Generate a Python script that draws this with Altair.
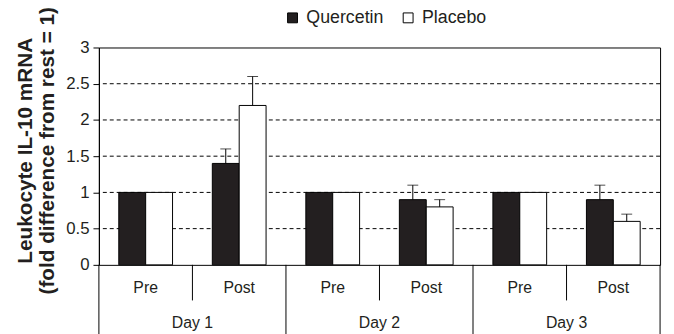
import altair as alt
import pandas as pd

# ---- data ----
days = ["Day 1", "Day 1", "Day 2", "Day 2", "Day 3", "Day 3"]
phases = ["Pre", "Post", "Pre", "Post", "Pre", "Post"]
series = ["Quercetin", "Placebo"]
quercetin = [1.0, 1.4, 1.0, 0.9, 1.0, 0.9]
quercetin_top = [None, 1.6, None, 1.1, None, 1.1]   # top of error bar
placebo = [1.0, 2.2, 1.0, 0.8, 1.0, 0.6]
placebo_top = [None, 2.6, None, 0.9, None, 0.7]
y_ticks = [0, 0.5, 1, 1.5, 2, 2.5, 3]
y_title = ["Leukocyte IL-10 mRNA" + "\u00a0" * 6, "(fold difference from rest = 1)"]

FONT = "Liberation Sans"
INK = "#231f20"

conds = [f"{d} {p}" for d, p in zip(days, phases)]

bar_rows, err_rows = [], []
for i, c in enumerate(conds):
    for s, vals, tops in (("Quercetin", quercetin, quercetin_top), ("Placebo", placebo, placebo_top)):
        bar_rows.append({"cond": c, "series": s, "value": vals[i]})
        if tops[i] is not None:
            err_rows.append({"cond": c, "series": s, "value": vals[i], "upper": tops[i]})
bars_df = pd.DataFrame(bar_rows)
err_df = pd.DataFrame(err_rows)
cat_df = pd.DataFrame({"cond": conds, "phase": phases, "day": days})
grid_df = pd.DataFrame({"value": [v for v in y_ticks if 0 < v < 3]})

x_scale = alt.Scale(domain=conds, paddingInner=0, paddingOuter=0)
xoff = alt.XOffset("series:N", scale=alt.Scale(domain=series, paddingInner=0, paddingOuter=0.74))
y_scale = alt.Scale(domain=[0, 3], nice=False)
y_axis = alt.Axis(values=y_ticks, format="~g", title=y_title, grid=False)


def Y(field):
    return alt.Y(f"{field}:Q", scale=y_scale, axis=y_axis)


def X(band=None):
    if band is None:
        return alt.X("cond:N", scale=x_scale, axis=None)
    return alt.X("cond:N", scale=x_scale, axis=None, bandPosition=band)


grid = alt.Chart(grid_df).mark_rule(color="black", strokeWidth=1, strokeDash=[4, 3]).encode(
    y=Y("value")
)

bars = alt.Chart(bars_df).mark_bar(stroke="black", strokeWidth=1).encode(
    x=X(),
    xOffset=xoff,
    y=Y("value"),
    fill=alt.Fill(
        "series:N",
        scale=alt.Scale(domain=series, range=[INK, "white"]),
        legend=alt.Legend(
            orient="none", legendX=187, legendY=-39, direction="horizontal",
            title=None, symbolType="square", symbolSize=100,
            symbolStrokeColor="black", symbolStrokeWidth=1,
            labelFont=FONT, labelFontSize=18, labelColor=INK,
            columnPadding=15, labelOffset=5,
        ),
    ),
)

err_line = alt.Chart(err_df).mark_rule(color="black", strokeWidth=1).encode(
    x=X(), xOffset=xoff, y=Y("value"), y2="upper:Q"
)
err_cap = alt.Chart(err_df).mark_tick(color="black", size=11, thickness=1).encode(
    x=X(), xOffset=xoff, y=Y("upper")
)

phase_text = alt.Chart(cat_df).mark_text(font=FONT, fontSize=16, color=INK, baseline="middle").encode(
    x=X(), y=alt.value(243), text="phase:N"
)
phase_sep = alt.Chart(cat_df).transform_filter("datum.phase == 'Post'").mark_rule(
    color="black", strokeWidth=1
).encode(x=X(0), y=alt.value(220), y2=alt.value(256))
day_sep = alt.Chart(cat_df).transform_filter("datum.phase == 'Pre'").mark_rule(
    color="black", strokeWidth=1
).encode(x=X(0), y=alt.value(220), y2=alt.value(292))
day_sep_end = alt.Chart(cat_df).transform_filter(f"datum.cond == '{conds[-1]}'").mark_rule(
    color="black", strokeWidth=1
).encode(x=X(1), y=alt.value(220), y2=alt.value(292))
day_text = alt.Chart(cat_df).transform_filter("datum.phase == 'Post'").mark_text(
    font=FONT, fontSize=16, color=INK, baseline="middle"
).encode(x=X(0), y=alt.value(279), text="day:N")

chart = alt.layer(
    grid, bars, err_line, err_cap, phase_text, phase_sep, day_sep, day_sep_end, day_text
).properties(
    width=568, height=220,
    autosize=alt.AutoSizeParams(type="none"),
    padding={"left": 92, "top": 38, "right": 6, "bottom": 68},
).configure_view(
    stroke="black", strokeWidth=1
).configure_axis(
    labelFont=FONT, labelFontSize=17, labelColor=INK, labelPadding=4,
    tickColor="black", tickSize=6, domainColor="black",
    titleFont=FONT, titleFontSize=21, titleFontWeight="bold", titleColor=INK,
    titleLineHeight=22.5,
).configure_axisY(
    titleX=-74, titleY=104, titleAngle=270, titleAlign="center", titleBaseline="middle",
)

chart.save("out.html", embed_options={"renderer": "svg", "actions": False})
